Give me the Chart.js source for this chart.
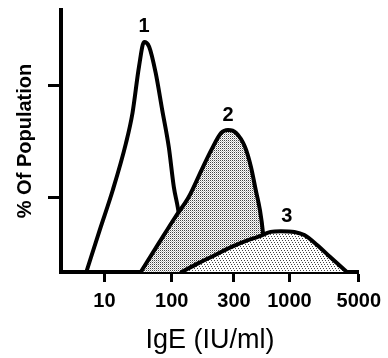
<!DOCTYPE html>
<html>
<head>
<meta charset="utf-8">
<script src="https://cdn.jsdelivr.net/npm/chart.js@4.4.1/dist/chart.umd.min.js"></script>
<style>
  html, body { margin: 0; padding: 0; background: #fff; }
  canvas { display: block; }
</style>
</head>
<body>
<canvas id="igeChart" width="388" height="358"></canvas>
<script>
// x is in axis units (0-100 across the hand drawn, uneven IgE axis)
const xTickPos = [14.6, 37.2, 58.1, 76.7, 100];
const xTickLabels = ['10', '100', '300', '1000', '5000'];
const yTickPos = [28.6, 71.0];

const peakLabels = ['1', '2', '3'];

const curve1X = [8.5, 13.0, 17.4, 21.8, 24.0, 26.2, 27.9, 29.6, 31.8, 34.0, 36.2, 37.9, 39.2, 40.9, 42.9];
const curve1Y = [0, 16.0, 31.3, 49.1, 60.6, 78.4, 87.8, 86.0, 76.0, 61.8, 47.7, 32.4, 24.8, 12.2, 0];

const curve2X = [26.8, 32.9, 38.4, 42.9, 47.2, 50.5, 53.8, 56.1, 58.8, 61.8, 63.8, 65.4, 66.8, 67.8, 68.8];
const curve2Y = [0, 11.1, 21.0, 28.6, 38.9, 46.6, 53.1, 54.2, 53.1, 47.7, 40.1, 31.3, 23.7, 15.3, 0];

const curve3X = [40.5, 46.2, 51.8, 57.1, 62.8, 66.1, 70.4, 73.8, 78.4, 81.7, 86.0, 90.4, 96.0];
const curve3Y = [0, 3.4, 6.5, 9.5, 12.2, 13.4, 15.3, 15.6, 15.3, 14.1, 10.3, 5.7, 0];

const toPoints = (xs, ys) => xs.map((x, i) => ({ x: x, y: ys[i] }));

// stipple texture, white backed so lines underneath are hidden
function stipple(size, dots) {
    const c = document.createElement('canvas');
    c.width = size; c.height = size;
    const g = c.getContext('2d');
    g.fillStyle = '#fff';
    g.fillRect(0, 0, size, size);
    dots.forEach(d => { g.fillStyle = d[2]; g.fillRect(d[0], d[1], 1, 1); });
    return g.createPattern(c, 'repeat');
}
const ctx = document.getElementById('igeChart').getContext('2d');
const denseFill = stipple(2, [[0, 0, '#444'], [1, 1, '#bbb']]);
const lightFill = stipple(6, [[0, 0, '#444'], [3, 0, '#444'], [1, 2, '#444'], [4, 2, '#444'], [2, 4, '#444'], [5, 4, '#444']]);

const peakLabelPlugin = {
    id: 'peakLabels',
    afterDatasetsDraw(chart) {
        const c = chart.ctx;
        c.save();
        c.font = 'bold 20px "Liberation Sans", Arial, sans-serif';
        c.fillStyle = '#000';
        c.textAlign = 'center';
        c.textBaseline = 'middle';
        chart.data.datasets.forEach((ds, i) => {
            const meta = chart.getDatasetMeta(i);
            let top = meta.data[0];
            meta.data.forEach(p => { if (p.y < top.y) top = p; });
            c.fillText(peakLabels[i], top.x + (i === 2 ? 6 : 0), top.y - 15);
        });
        c.restore();
    }
};

const lineStyle = {
    borderColor: '#000',
    borderWidth: 4,
    pointRadius: 0,
    cubicInterpolationMode: 'monotone',
    borderJoinStyle: 'round',
    borderCapStyle: 'round'
};

new Chart(ctx, {
    type: 'line',
    data: {
        datasets: [
            Object.assign({ data: toPoints(curve1X, curve1Y), fill: false, order: 3 }, lineStyle),
            Object.assign({ data: toPoints(curve2X, curve2Y), fill: 'origin', backgroundColor: denseFill, order: 2 }, lineStyle),
            Object.assign({ data: toPoints(curve3X, curve3Y), fill: 'origin', backgroundColor: lightFill, order: 1 }, lineStyle)
        ]
    },
    options: {
        responsive: false,
        animation: false,
        devicePixelRatio: 1,
        layout: { padding: { top: 10, right: 26, left: 0, bottom: 0 } },
        plugins: {
            legend: { display: false },
            tooltip: { enabled: false }
        },
        scales: {
            x: {
                type: 'linear',
                min: 0,
                max: 100,
                afterBuildTicks: s => { s.ticks = xTickPos.map(v => ({ value: v })); },
                afterFit: s => { s.height = 86; },
                ticks: {
                    autoSkip: false,
                    maxRotation: 0,
                    padding: 7,
                    color: '#000',
                    font: { family: '"Liberation Sans", Arial, sans-serif', size: 20, weight: 'bold' },
                    callback: (v, i) => xTickLabels[i]
                },
                grid: { drawOnChartArea: false, tickLength: 10, tickWidth: 3, tickColor: '#000' },
                border: { color: '#000', width: 4 },
                title: {
                    display: true,
                    text: 'IgE (IU/ml)',
                    color: '#000',
                    font: { family: '"Liberation Sans", Arial, sans-serif', size: 27 },
                    padding: { top: 0, bottom: 1 }
                }
            },
            y: {
                min: 0,
                max: 100,
                afterBuildTicks: s => { s.ticks = yTickPos.map(v => ({ value: v })); },
                afterFit: s => { s.width = 61; },
                ticks: { display: false },
                grid: { drawOnChartArea: false, tickLength: 13, tickWidth: 3, tickColor: '#000' },
                border: { color: '#000', width: 4 },
                title: {
                    display: true,
                    text: '% Of Population',
                    color: '#000',
                    font: { family: '"Liberation Sans", Arial, sans-serif', size: 20, weight: 'bold' },
                    padding: { top: 13, bottom: 0 }
                }
            }
        }
    },
    plugins: [peakLabelPlugin]
});
</script>
</body>
</html>
